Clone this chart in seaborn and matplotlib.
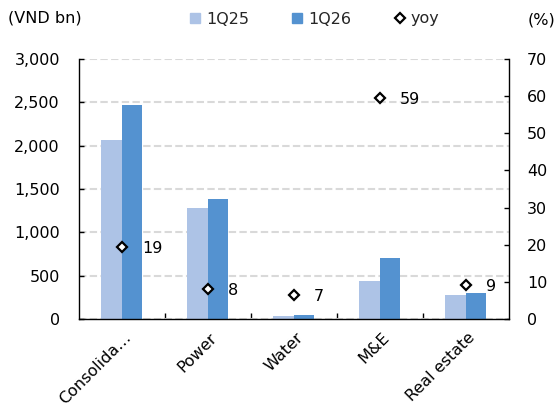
import matplotlib
matplotlib.use("Agg")
import matplotlib.pyplot as plt
import matplotlib.transforms as mtransforms
from matplotlib.lines import Line2D
from matplotlib.ticker import FuncFormatter, FixedLocator
import seaborn as sns
import pandas as pd

# ---- data ----
categories = ["Consolida…", "Power", "Water", "M&E", "Real estate"]
series_names = ["1Q25", "1Q26"]
values_1q25 = [2065, 1285, 35, 445, 280]
values_1q26 = [2465, 1390, 45, 710, 307]
yoy_name = "yoy"
yoy = [19.4, 8.1, 6.6, 59.4, 9.2]
left_ticks = [0, 500, 1000, 1500, 2000, 2500, 3000]
right_ticks = [0, 10, 20, 30, 40, 50, 60, 70]
left_unit = "(VND bn)"
right_unit = "(%)"

color_1q25 = "#ADC3E6"
color_1q26 = "#5492D0"

sns.set_theme(style="white")
plt.rcParams["font.family"] = ["DejaVu Sans"]
plt.rcParams["lines.scale_dashes"] = False
FS = 11.5

df = pd.DataFrame({
    "category": categories * 2,
    "series": [series_names[0]] * len(categories) + [series_names[1]] * len(categories),
    "value": values_1q25 + values_1q26,
})

fig = plt.figure(figsize=(5.58, 4.12), dpi=100)
ax = fig.add_axes([78.7 / 558, 1 - 319.3 / 412, 430 / 558, 260.6 / 412])

sns.barplot(data=df, x="category", y="value", hue="series", order=categories,
            hue_order=series_names, palette=[color_1q25, color_1q26],
            width=0.48, gap=0, saturation=1, errorbar=None, linewidth=0,
            legend=False, ax=ax)

ax.set_ylim(left_ticks[0], left_ticks[-1])
ax.yaxis.set_major_locator(FixedLocator(left_ticks))
ax.yaxis.set_major_formatter(FuncFormatter(lambda v, p: f"{v:,.0f}"))
ax.set_axisbelow(True)
ax.grid(False)
ax.yaxis.grid(True, color="#D9D9D9", linestyle=(0, (5.3, 2.4)), linewidth=1.5)
ax.set_xlabel("")
ax.set_ylabel("")

ax2 = ax.twinx()
sns.pointplot(x=categories, y=yoy, order=categories, ax=ax2, errorbar=None,
              linestyle="none", marker="D", color="black",
              markerfacecolor="white", markeredgecolor="black",
              markersize=4.8, markeredgewidth=1.6)
ax2.set_ylim(right_ticks[0], right_ticks[-1])
ax2.yaxis.set_major_locator(FixedLocator(right_ticks))
ax2.grid(False)
ax2.set_ylabel("")
for i, v in enumerate(yoy):
    ax2.annotate(f"{v:.0f}", xy=(i, v), xytext=(14.5, -1), textcoords="offset points",
                 ha="left", va="center", fontsize=FS, color="black")

ax.set_xlim(-0.5, len(categories) - 0.5)

# spines
for a in (ax, ax2):
    for s in a.spines.values():
        s.set_color("black")
        s.set_linewidth(1.0)
ax.spines["top"].set_visible(False)
ax.spines["right"].set_visible(False)
for s in ("top", "left", "bottom"):
    ax2.spines[s].set_visible(False)

# ticks
ax.tick_params(axis="y", which="major", direction="in", length=3.8, width=1.0,
               color="black", pad=13.5, labelsize=FS, labelcolor="black", left=True)
ax2.tick_params(axis="y", which="major", direction="in", length=3.8, width=1.0,
                color="black", pad=13, labelsize=FS, labelcolor="black", right=True)
ax.xaxis.set_minor_locator(FixedLocator([i + 0.5 for i in range(len(categories) - 1)]))
ax.tick_params(axis="x", which="minor", direction="in", length=4.3, width=1.0,
               color="black", bottom=True)
ax.tick_params(axis="x", which="major", length=0, pad=11.5, labelsize=FS,
               labelcolor="black")
ax.set_xticks(range(len(categories)))
ax.set_xticklabels(categories)
offset = mtransforms.ScaledTranslation(0.07, 0, fig.dpi_scale_trans)
for lbl in ax.get_xticklabels():
    lbl.set_rotation(45)
    lbl.set_ha("right")
    lbl.set_va("center")
    lbl.set_rotation_mode("anchor")
    lbl.set_transform(lbl.get_transform() + offset)

# unit labels
fig.text(8 / 558, 1 - 18 / 412, left_unit, ha="left", va="center", fontsize=FS, color="black")
fig.text(555 / 558, 1 - 20 / 412, right_unit, ha="right", va="center", fontsize=FS, color="black")

# legend
handles = [
    Line2D([], [], marker="s", linestyle="none", markerfacecolor=color_1q25,
           markeredgecolor=color_1q25, markersize=7.5),
    Line2D([], [], marker="s", linestyle="none", markerfacecolor=color_1q26,
           markeredgecolor=color_1q26, markersize=7.5),
    Line2D([], [], marker="D", linestyle="none", markerfacecolor="white",
           markeredgecolor="black", markeredgewidth=1.6, markersize=4.8),
]
fig.legend(handles, series_names + [yoy_name], loc="center left",
           bbox_to_anchor=(189 / 558, 1 - 19 / 412), ncol=3, frameon=False,
           handlelength=0.8, handletextpad=0.3, columnspacing=2.6,
           borderpad=0, borderaxespad=0, fontsize=FS)

fig.savefig("out.png", dpi=100)
